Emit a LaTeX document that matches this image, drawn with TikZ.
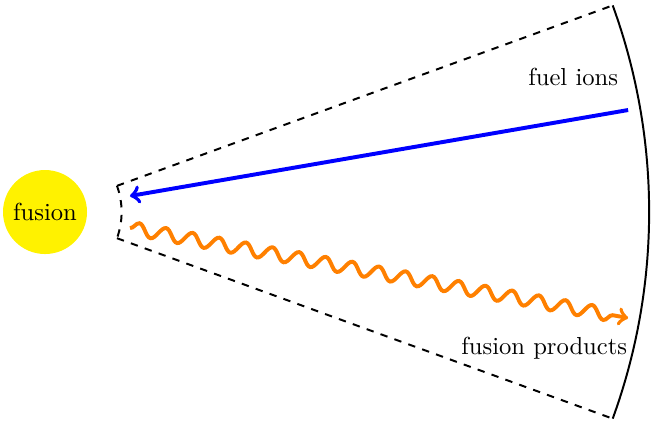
\documentclass[tikz,border=0pt]{standalone}
\usetikzlibrary{decorations.pathmorphing}
\begin{document}
\begin{tikzpicture}[
  ionbeam/.style={->,ultra thick,blue},
  products/.style={->,ultra thick,orange,decorate,
    decoration={snake,segment length=11pt,amplitude=2.6pt,post length=2mm}},
  wall/.style={thick},
  border/.style={thick,dashed}]
  \useasboundingbox (-0.643,-2.986) rectangle (8.671,3.029);
  % Fusion core
  \node[circle,fill=yellow,minimum size=1.2cm,inner sep=0pt] (core) at (0,0) {fusion};
  % Sector boundary
  \draw[border] (20:1.094) coordinate (innertop) arc (20:-20:1.094) coordinate (innerbot);
  \draw[border] (innertop) -- (20:8.63) coordinate (outertop);
  \draw[border] (innerbot) -- (-20:8.63) coordinate (outerbot);
  \draw[wall] (outertop) arc (20:-20:8.63);
  % Beams
  \coordinate (ionstart) at (8.33,1.457);
  \coordinate (ionend) at (1.214,0.229);
  \coordinate (prodstart) at (1.214,-0.229);
  \coordinate (prodend) at (8.33,-1.514);
  \draw[ionbeam] (ionstart) -- (ionend);
  \draw[products] (prodstart) -- (prodend);
  % Labels
  \node[anchor=east] (ionlabel) at (8.31,1.929) {fuel ions};
  \node[anchor=east] (prodlabel) at (8.44,-1.943) {fusion products};
\end{tikzpicture}
\end{document}
